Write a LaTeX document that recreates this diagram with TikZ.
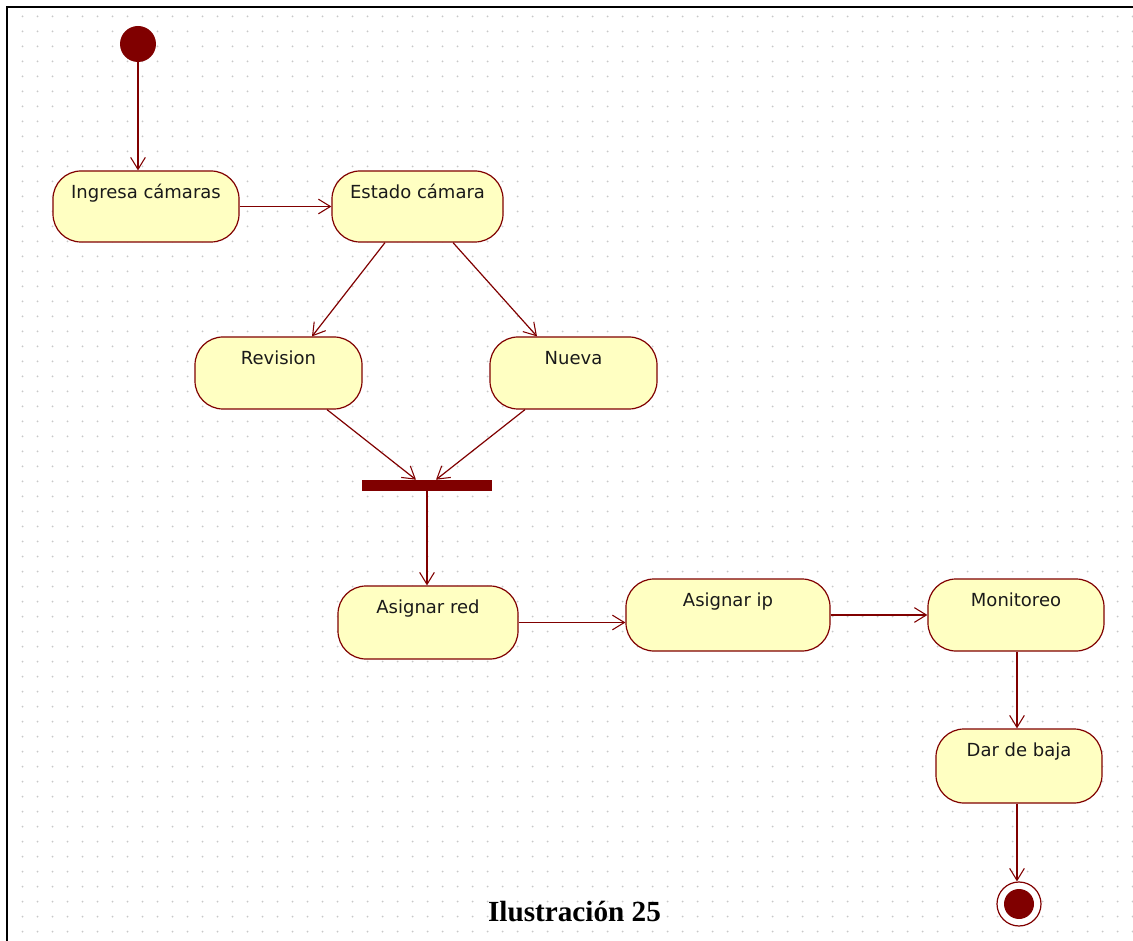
\documentclass[tikz,border=0pt]{standalone}
\usepackage{fontspec}
\setmainfont{Liberation Serif}
\newfontfamily\nodefont{DejaVu Sans}
\usetikzlibrary{arrows.meta,calc}
\definecolor{umlred}{HTML}{800000}
\definecolor{umlfill}{HTML}{FFFFC2}
\definecolor{dotgray}{HTML}{C8C8C8}
\definecolor{txtgray}{HTML}{1A1A1A}
\begin{document}
\begin{tikzpicture}[x=0.75pt,y=-0.75pt,
  act/.style 2 args={draw=umlred, fill=umlfill, line width=0.9pt, rounded corners=21pt,
    inner sep=0pt, minimum width=#1*0.75pt, minimum height=#2*0.75pt},
  lbl/.style={font=\nodefont\fontsize{13.5}{16}\selectfont, text=txtgray, anchor=base, yshift=-21pt},
  flow/.style={draw=umlred, line width=0.9pt,
    -{Straight Barb[length=9pt,width=11pt,line width=0.8pt]}},
  startnode/.style={circle, fill=umlred, minimum size=36*0.75pt, inner sep=0pt},
  endnode/.style={circle, draw=umlred, line width=0.9pt, fill=white, minimum size=44*0.75pt, inner sep=0pt,
    path picture={\fill[umlred] (path picture bounding box.center) circle (11.25pt);}},
  forkbar/.style={rectangle, fill=umlred, minimum width=130*0.75pt, minimum height=11*0.75pt, inner sep=0pt},
  frame/.style={draw=black, line width=1.6pt}
]
\useasboundingbox (0,0) rectangle (1133,941);
\fill[white] (0,0) rectangle (1133,941);
% grid of dots
\foreach \i in {0,...,74} {
  \foreach \j in {0,...,61} {
    \fill[dotgray] (22.5+15*\i, 16.5+15*\j) circle (0.75pt);
  }
}
% frame (top and left only)
\draw[frame] (7,941) -- (7,7) -- (1133,7);

% nodes
\node[startnode] (init) at (138,44) {};
\node[act={186}{71}, label={[lbl]north:Ingresa cámaras}] (ingresa) at (146,206.5) {};
\node[act={171}{71}, label={[lbl]north:Estado cámara}] (estado) at (417.5,206.5) {};
\node[act={167}{72}, label={[lbl]north:Revision}] (revision) at (278.5,373) {};
\node[act={167}{72}, label={[lbl]north:Nueva}] (nueva) at (573.5,373) {};
\node[forkbar] (bar) at (427,485.5) {};
\node[act={180}{73}, label={[lbl]north:Asignar red}] (red) at (428,622.5) {};
\node[act={204}{72}, label={[lbl]north:Asignar ip}] (ip) at (728,615) {};
\node[act={176}{72}, label={[lbl]north:Monitoreo}] (mon) at (1016,615) {};
\node[act={166}{74}, label={[lbl]north:Dar de baja}] (baja) at (1019,766) {};
\node[endnode] (final) at (1019,904) {};
\node[font=\bfseries\fontsize{21.9}{24}\selectfont, anchor=base] (cap) at (574.5,921) {Ilustración 25};

% helper coordinates
\coordinate (monout) at ($(mon.south)+(1,0)$);
\coordinate (bajaout) at ($(baja.south)+(-2,0)$);

% connectors
\draw[flow] (init.south) -- (init.south |- ingresa.north);
\draw[flow] (ingresa.east) -- (estado.west);
\draw[flow] ($(estado.south)+(-32.5,0)$) -- ($(revision.north)+(33.5,0)$);
\draw[flow] ($(estado.south)+(35.5,0)$) -- ($(nueva.north)+(-36.5,0)$);
\draw[flow] ($(revision.south)+(48.5,0)$) -- ($(bar.north)+(-11,0)$);
\draw[flow] ($(nueva.south)+(-48.5,0)$) -- ($(bar.north)+(9,0)$);
\draw[flow] (bar.south) -- (bar.south |- red.north);
\draw[flow] (red.east) -- (red.east -| ip.west);
\draw[flow] (ip.east) -- (mon.west);
\draw[flow] (monout) -- (monout |- baja.north);
\draw[flow] (bajaout) -- (bajaout |- final.north);
\end{tikzpicture}
\end{document}
